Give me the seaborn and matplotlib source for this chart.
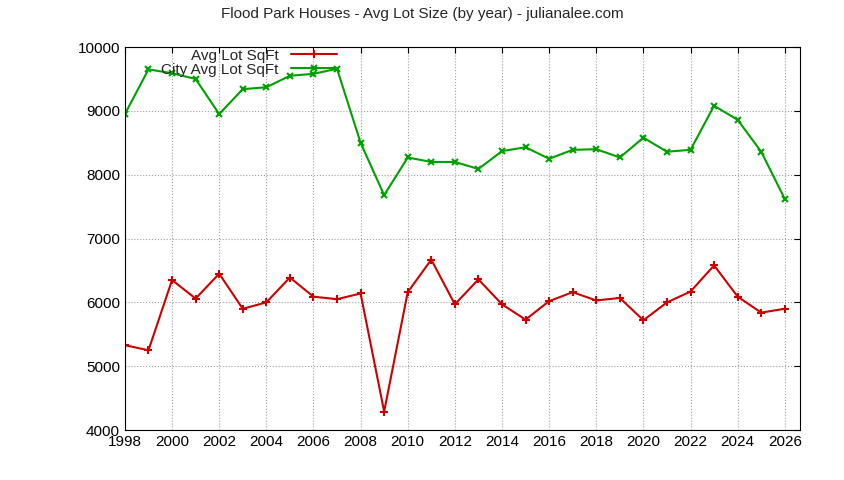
import matplotlib
matplotlib.use('Agg')
import matplotlib.pyplot as plt
import seaborn as sns
import pandas as pd

years = list(range(1998, 2027))
avg_lot = [5330, 5250, 6350, 6060, 6450, 5900, 6000, 6390, 6090, 6050,
           6140, 4290, 6160, 6670, 5970, 6360, 5970, 5730, 6020, 6160,
           6030, 6070, 5720, 6000, 6170, 6580, 6090, 5840, 5900]
city_avg_lot = [8950, 9650, 9590, 9500, 8950, 9340, 9370, 9550, 9580, 9660,
                8500, 7680, 8270, 8200, 8200, 8090, 8370, 8430, 8250, 8390,
                8400, 8270, 8580, 8360, 8390, 9080, 8860, 8360, 7620]

sns.set_style('white')
plt.rcParams['font.family'] = ['Liberation Sans', 'DejaVu Sans']

df = pd.DataFrame({'Year': years, 'Avg Lot SqFt': avg_lot,
                   'City Avg Lot SqFt': city_avg_lot})

fig = plt.figure(figsize=(8.44, 4.8), dpi=100)
ax = fig.add_axes([0.148, 0.104, 0.8, 0.798])

sns.lineplot(data=df, x='Year', y='Avg Lot SqFt', ax=ax, color='#cc0000',
             marker='+', markersize=6, markeredgewidth=1.5, linewidth=1.5,
             markeredgecolor='#cc0000', label='Avg Lot SqFt')
sns.lineplot(data=df, x='Year', y='City Avg Lot SqFt', ax=ax, color='#00a000',
             marker='x', markersize=5, markeredgewidth=1.5, linewidth=1.5,
             markeredgecolor='#00a000', label='City Avg Lot SqFt')

ax.set_xlim(1998, 2026.65)
ax.set_ylim(4000, 10000)
ax.set_xticks(range(1998, 2027, 2))
ax.set_yticks(range(4000, 10001, 1000))
ax.grid(True, color='#a0a0a0', linestyle=':', linewidth=0.8)
for s in ax.spines.values():
    s.set_color('black')
    s.set_linewidth(0.8)
ax.tick_params(direction='in', length=4, labelsize=11, top=True, right=True,
               colors='black')
ax.set_xlabel('')
ax.set_ylabel('')
fig.suptitle('Flood Park Houses - Avg Lot Size (by year) - julianalee.com',
             fontsize=11, x=0.5, y=0.985)
leg = ax.legend(loc='upper left', bbox_to_anchor=(0.04, 1.02), frameon=False,
                fontsize=11, markerfirst=False, handlelength=3,
                labelspacing=0.0, borderaxespad=0.2)
for t in leg.get_texts():
    t.set_ha('right')

fig.savefig('out.png', dpi=100)
